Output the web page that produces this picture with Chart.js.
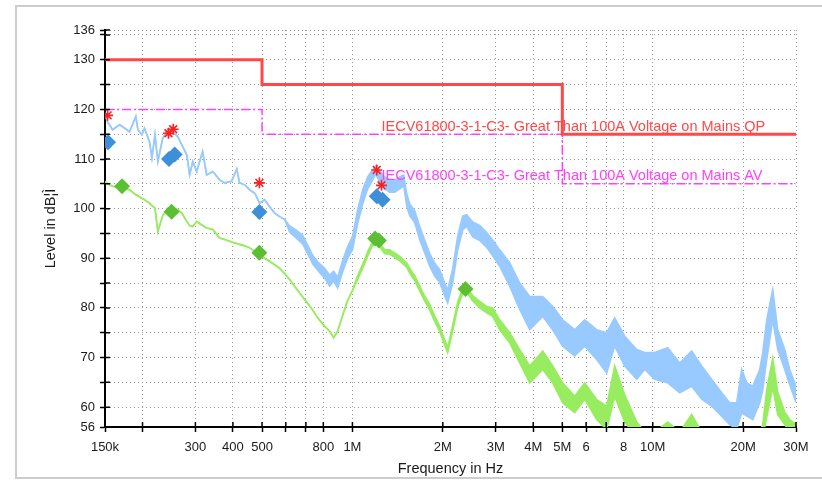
<!DOCTYPE html>
<html>
<head>
<meta charset="utf-8">
<script src="https://cdn.jsdelivr.net/npm/chart.js@4.4.0/dist/chart.umd.min.js"></script>
<style>
  html, body { margin: 0; padding: 0; background: #fff; overflow: hidden; }
  #frame { position: absolute; left: 15px; top: 5px; width: 900px; height: 474px; border: 2px solid #cdcdcd; box-sizing: border-box; }
  #emi { position: absolute; left: 0; top: 0; }
</style>
</head>
<body>
<div id="frame"></div>
<canvas id="emi" width="822" height="481"></canvas>
<script>
// frequencies in kHz
const freqs = [150, 153, 159, 164, 168, 174.5, 181, 190, 193, 199, 203, 211, 215, 220, 225, 233.5, 243, 252, 262, 270,
  281, 287, 294, 303, 317, 327, 343, 361, 376, 396, 412, 421, 438, 455, 473, 491, 510, 530, 551, 572,
  595, 618, 652, 683, 710, 737, 766, 808, 840, 866, 893, 928, 964, 1002, 1041, 1082, 1124, 1159, 1195, 1232,
  1281, 1331, 1383, 1437, 1482, 1516, 1551, 1612, 1675, 1740, 1808, 1879, 1953, 2029, 2076, 2157, 2242, 2329, 2402, 2515,
  2654, 2800, 2931, 3093, 3340, 3606, 3894, 4302, 4644, 5014, 5497, 5936, 6508, 7026, 7471, 8068, 8845, 9403, 10155, 11217,
  12300, 13482, 14558, 15719, 16971, 18044, 19040, 19784, 20558, 21533, 22719, 23247, 23972, 25098, 26079, 27516, 28590, 30000];

// peak scan (upper / lower edge of the noisy trace)
const peakHi = [118.9, 117.5, 115.9, 116.5, 116.9, 116.2, 115.5, 118.6, 115.9, 114.9, 116.2, 113.5, 110.2, 114.9, 109.5, 114.2, 116.0, 115.5, 114.5, 112.9,
  110.8, 106.8, 109.5, 107.5, 111.5, 106.8, 107.5, 105.8, 105.2, 105.5, 108.0, 105.2, 104.8, 103.8, 103.1, 101.1, 101.8, 100.4, 99.1, 98.4,
  97.8, 96.5, 95.6, 94.6, 92.6, 90.6, 89.3, 88.0, 86.6, 87.4, 86.2, 89.6, 92.3, 94.5, 99.8, 103.8, 106.4, 107.6, 108.6, 107.6,
  106.4, 105.8, 105.7, 106.4, 106.8, 103.0, 101.0, 99.6, 96.4, 93.7, 91.0, 89.0, 87.7, 85.0, 83.6, 87.8, 94.5, 98.5, 98.8, 97.3,
  96.6, 95.2, 93.7, 91.7, 89.1, 85.0, 82.3, 82.3, 80.3, 77.6, 75.6, 77.6, 75.6, 75.0, 78.0, 74.3, 71.6, 71.0, 71.0, 72.0,
  68.9, 71.3, 68.3, 65.6, 62.9, 60.9, 60.9, 67.6, 64.9, 64.2, 67.6, 71.0, 77.6, 83.7, 75.6, 71.6, 67.6, 64.2];
const peakLo = [118.9, 117.5, 115.9, 116.5, 116.9, 116.2, 115.5, 118.6, 115.9, 114.9, 116.2, 113.5, 110.2, 114.9, 109.5, 114.2, 116.0, 115.5, 114.5, 112.9,
  110.8, 106.8, 109.5, 107.5, 111.5, 106.8, 107.5, 105.8, 105.2, 105.5, 108.0, 105.2, 104.8, 103.8, 103.1, 101.1, 101.8, 100.4, 99.1, 98.4,
  97.8, 95.3, 94.0, 92.9, 90.9, 88.9, 87.6, 86.0, 84.4, 85.4, 84.0, 87.3, 90.0, 91.8, 97.0, 101.0, 104.0, 105.4, 107.0, 105.4,
  104.0, 103.3, 103.3, 104.0, 104.6, 100.6, 98.6, 97.2, 93.8, 91.1, 88.4, 86.4, 85.1, 82.4, 81.0, 85.0, 91.7, 95.7, 96.4, 94.3,
  93.6, 92.2, 90.5, 88.4, 84.4, 79.7, 75.6, 78.3, 75.6, 72.3, 70.3, 72.3, 69.6, 66.9, 72.3, 68.3, 65.6, 67.6, 65.6, 64.9,
  62.9, 64.2, 61.6, 60.2, 58.2, 56.5, 55.5, 58.9, 58.2, 57.5, 60.9, 63.5, 69.6, 77.6, 71.6, 67.6, 64.5, 61.0];

// average scan
const avgHi = [105.5, 105.0, 104.5, 104.3, 104.1, 104.0, 103.8, 102.8, 102.6, 102.1, 101.8, 101.1, 100.6, 100.1, 95.4, 98.6, 100.1, 100.0, 99.8, 99.1,
  97.4, 96.6, 96.4, 97.4, 96.6, 96.1, 95.8, 94.1, 93.8, 93.3, 93.0, 92.8, 92.5, 92.1, 91.4, 90.7, 90.0, 89.4, 88.7, 88.0,
  86.9, 85.7, 83.8, 82.2, 80.9, 79.6, 78.0, 76.3, 75.3, 74.0, 75.3, 78.5, 81.5, 83.6, 86.5, 88.8, 91.3, 93.0, 94.0, 93.1,
  91.7, 91.7, 91.1, 90.4, 89.6, 89.1, 88.0, 86.5, 84.4, 82.4, 80.7, 78.4, 76.3, 73.6, 72.0, 76.5, 81.2, 84.0, 84.2, 82.5,
  81.3, 80.3, 80.0, 77.6, 75.0, 71.6, 68.3, 71.3, 68.3, 64.9, 62.2, 64.9, 61.5, 60.2, 68.3, 62.5, 57.0, 55.0, 55.0, 57.0,
  55.0, 58.5, 55.0, 54.0, 54.0, 54.0, 54.0, 54.0, 54.0, 54.0, 55.0, 56.5, 63.5, 69.9, 63.0, 59.0, 57.5, 56.5];
const avgLo = [105.5, 105.0, 104.5, 104.3, 104.1, 104.0, 103.8, 102.8, 102.6, 102.1, 101.8, 101.1, 100.6, 100.1, 95.4, 98.6, 100.1, 100.0, 99.8, 99.1,
  97.4, 96.6, 96.4, 97.4, 96.6, 96.1, 95.8, 94.1, 93.8, 93.3, 93.0, 92.8, 92.5, 92.1, 91.4, 90.7, 90.0, 89.4, 88.7, 88.0,
  86.9, 85.7, 83.8, 82.2, 80.9, 79.6, 78.0, 76.3, 75.3, 74.0, 75.3, 78.5, 81.5, 83.6, 85.7, 88.0, 90.4, 92.2, 93.2, 92.3,
  90.9, 90.8, 90.2, 89.5, 88.7, 88.2, 87.0, 85.5, 83.4, 81.4, 79.6, 77.3, 75.2, 72.5, 71.0, 75.3, 80.1, 82.9, 83.2, 81.4,
  80.0, 79.0, 78.3, 75.6, 73.0, 68.9, 64.9, 67.6, 64.9, 60.9, 58.9, 61.6, 57.5, 55.5, 62.2, 57.0, 54.0, 53.0, 53.0, 55.0,
  53.0, 55.0, 53.0, 52.0, 52.0, 52.0, 52.0, 52.0, 52.0, 52.0, 53.0, 54.0, 58.0, 64.0, 58.5, 56.5, 55.0, 54.0];

// limit lines
const limitFreq = [150, 500, 500, 5000, 5000, 30000];
const qpLimit = [130, 130, 125, 125, 115, 115];
const avLimit = [120, 120, 115, 115, 105, 105];
const qpLabel = 'IECV61800-3-1-C3- Great Than 100A Voltage on Mains QP';
const avLabel = 'IECV61800-3-1-C3- Great Than 100A Voltage on Mains AV';
const labelFreq = 1250;

// markers
const starFreq = [153, 244, 253, 490, 1205, 1250];
const starLevel = [118.8, 115.2, 116.0, 105.2, 107.8, 104.7];
const qpFreq = [153.5, 245, 256, 490, 1205, 1260];
const qpLevel = [113.4, 110.0, 110.9, 99.3, 102.5, 101.8];
const avFreq = [171, 250, 490, 1190, 1225, 2380];
const avLevel = [104.5, 99.4, 91.1, 94.0, 93.6, 83.8];

// axes
const xTicks = [150, 200, 300, 400, 500, 600, 700, 800, 1000, 2000, 3000, 4000, 5000, 6000, 7000, 8000, 10000, 20000, 30000];
const xLabels = ['150k', '', '300', '400', '500', '', '', '800', '1M', '2M', '3M', '4M', '5M', '6', '', '8', '10M', '20M', '30M'];
const yTicks = [56, 60, 65, 70, 75, 80, 85, 90, 95, 100, 105, 110, 115, 120, 125, 130, 135, 136];
const yLabels = ['56', '60', '', '70', '', '80', '', '90', '', '100', '', '110', '', '120', '', '130', '', '136'];

const FONT = '"Liberation Sans", Arial, sans-serif';
const blue = 'rgb(152,202,255)';
const green = 'rgb(152,236,96)';
const red = 'rgb(255,72,72)';
const magenta = 'rgb(255,64,255)';

function pts(xs, ys) {
  return xs.map((x, i) => ({x: x, y: ys[i]}));
}

const trace = (data, color, order, fill) => ({
  data: data, borderColor: color, backgroundColor: color, borderWidth: 1.6,
  pointRadius: 0, tension: 0, fill: fill, order: order
});
const marker = (data, style, color, r, order) => ({
  data: data, showLine: false, pointStyle: style, pointRadius: r,
  pointBackgroundColor: color, pointBorderColor: color, pointBorderWidth: style === 'star' ? 1.6 : 0,
  order: order
});

const innerTicks = {
  id: 'innerTicks',
  afterDraw(chart) {
    const {ctx, chartArea: a, scales: {x, y}} = chart;
    ctx.save();
    ctx.strokeStyle = '#000';
    ctx.lineWidth = 1.5;
    ctx.beginPath();
    x.ticks.forEach(t => { const px = x.getPixelForValue(t.value); ctx.moveTo(px, a.bottom); ctx.lineTo(px, a.bottom - 5); });
    y.ticks.forEach(t => { const py = y.getPixelForValue(t.value); ctx.moveTo(a.left, py); ctx.lineTo(a.left + 5, py); });
    ctx.stroke();
    ctx.restore();
  }
};

const limitLabels = {
  id: 'limitLabels',
  afterDatasetsDraw(chart) {
    const {ctx, scales: {x, y}} = chart;
    ctx.save();
    ctx.font = '14.5px ' + FONT;
    ctx.textAlign = 'left';
    ctx.textBaseline = 'alphabetic';
    ctx.fillStyle = red;
    ctx.fillText(qpLabel, x.getPixelForValue(labelFreq), y.getPixelForValue(qpLimit[5]) - 3.5);
    ctx.fillStyle = magenta;
    ctx.fillText(avLabel, x.getPixelForValue(labelFreq), y.getPixelForValue(avLimit[5]) - 3.5);
    ctx.restore();
  }
};

const gridOpts = {
  color: '#9a9a9a', lineWidth: 1, drawTicks: true, tickLength: 5,
  tickColor: '#000', tickWidth: 1.5, tickBorderDash: []
};
const borderOpts = {display: true, color: '#000', width: 2, dash: [1, 3]};

new Chart(document.getElementById('emi'), {
  type: 'line',
  data: {
    datasets: [
      trace(pts(freqs, peakHi), blue, 3, false),
      trace(pts(freqs, peakLo), blue, 3, '-1'),
      trace(pts(freqs, avgHi), green, 2, false),
      trace(pts(freqs, avgLo), green, 2, '-1'),
      {data: pts(limitFreq, qpLimit), borderColor: red, borderWidth: 3, pointRadius: 0, tension: 0, fill: false, order: 1},
      {data: pts(limitFreq, avLimit), borderColor: magenta, borderWidth: 1.5, borderDash: [9, 3, 2, 3], pointRadius: 0, tension: 0, fill: false, order: 1},
      marker(pts(avFreq, avLevel), 'rectRot', '#5cbf33', 8, 0),
      marker(pts(qpFreq, qpLevel), 'rectRot', '#3d8fd9', 8, 0),
      marker(pts(starFreq, starLevel), 'star', 'rgb(255,30,30)', 5.5, 0)
    ]
  },
  options: {
    responsive: false,
    animation: false,
    layout: {padding: {top: 30, right: 26, bottom: 0, left: 0}},
    plugins: {legend: {display: false}, tooltip: {enabled: false}},
    scales: {
      x: {
        type: 'logarithmic', min: 150, max: 30000,
        afterBuildTicks: (s) => { s.ticks = xTicks.map(v => ({value: v})); },
        afterFit: (s) => { s.height = 54; },
        grid: gridOpts, border: borderOpts,
        ticks: {
          autoSkip: false, maxRotation: 0, padding: 8, color: '#1a1a1a',
          font: {family: FONT, size: 13},
          callback: (v, i) => xLabels[i]
        },
        title: {display: true, text: 'Frequency in Hz', color: '#1a1a1a', font: {family: FONT, size: 14.5}, padding: {top: 0, bottom: 3}}
      },
      y: {
        min: 56, max: 136,
        afterBuildTicks: (s) => { s.ticks = yTicks.map(v => ({value: v})); },
        afterFit: (s) => { s.width = 105; },
        grid: gridOpts, border: borderOpts,
        ticks: {
          autoSkip: false, padding: 5, color: '#1a1a1a',
          font: {family: FONT, size: 13},
          callback: (v, i) => yLabels[i]
        },
        title: {display: true, text: 'Level in dB¦Ì', color: '#1a1a1a', font: {family: FONT, size: 14.5}, padding: {top: 42, bottom: 0}}
      }
    }
  },
  plugins: [innerTicks, limitLabels]
});
</script>
</body>
</html>
